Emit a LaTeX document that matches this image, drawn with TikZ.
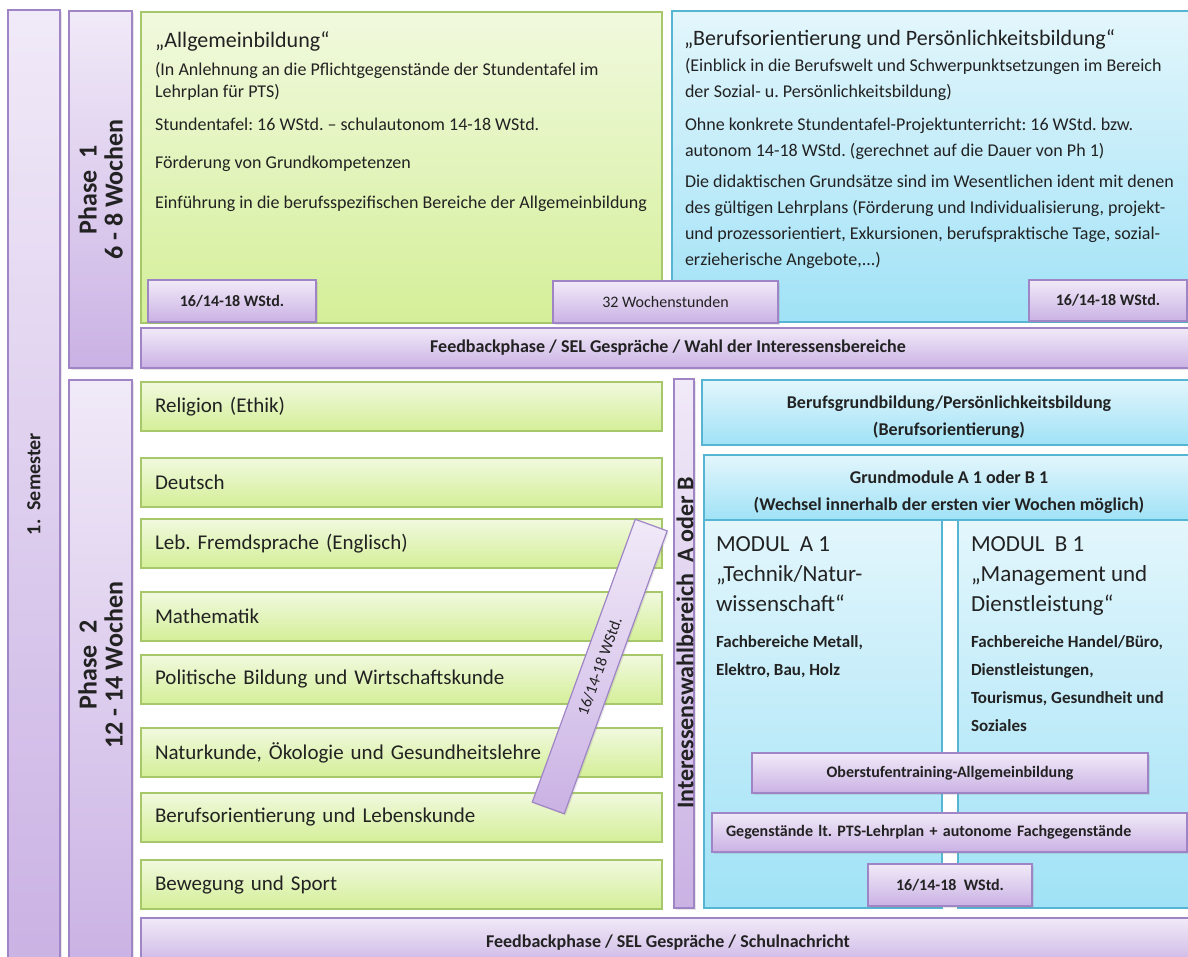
\documentclass[tikz,border=0pt]{standalone}
\usepackage{fontspec}
\setmainfont{Carlito}
\frenchspacing
\usetikzlibrary{shadows}
\definecolor{lilarand}{HTML}{A085C6}
\definecolor{lilaoben}{HTML}{F1EAF8}
\definecolor{lilaunten}{HTML}{CAB2E4}
\definecolor{gruenrand}{HTML}{A6C86A}
\definecolor{gruenoben}{HTML}{F1F9DE}
\definecolor{gruenunten}{HTML}{D4EF98}
\definecolor{blaurand}{HTML}{55B5D2}
\definecolor{blauoben}{HTML}{E3F6FC}
\definecolor{blauunten}{HTML}{A0E2F6}
\definecolor{schrift}{HTML}{222222}

\begin{document}
\begin{tikzpicture}[x=1pt, y=-1pt,
    every node/.style={inner sep=0pt, outer sep=0pt, text=schrift},
    lila/.style={draw=lilarand, line width=1.2pt, top color=lilaoben, bottom color=lilaunten,
        drop shadow={opacity=0.2, shadow xshift=1.5pt, shadow yshift=-1.5pt}},
    gruen/.style={draw=gruenrand, line width=1.2pt, top color=gruenoben, bottom color=gruenunten},
    blau/.style={draw=blaurand, line width=1.2pt, top color=blauoben, bottom color=blauunten},
    feld/.style={anchor=north west},
    titel/.style={font=\fontsize{22}{26}\selectfont, anchor=base west},
    absatz/.style={font=\fontsize{18}{22}\selectfont, align=left, anchor=north west},
    fach/.style={gruen, feld, minimum height=49pt, text width=493pt, inner xsep=14pt,
        align=left, font=\fontsize{21}{25}\selectfont},
    marke/.style={lila, feld, font=\bfseries\fontsize{16}{19}\selectfont},
    balken/.style={lila, feld, font=\bfseries\fontsize{18}{21}\selectfont},
    hoch/.style={rotate=90, align=center, font=\bfseries\fontsize{26}{26}\selectfont}]

    \useasboundingbox (0,0) rectangle (1188,956);
    \clip (0,0) rectangle (1188,956);

    % linke Leisten
    \node [lila, feld, minimum width=52pt, minimum height=960pt] (semester) at (8,10) {};
    \node [hoch, font=\bfseries\fontsize{20}{24}\selectfont] (semestertext) at (34,484) {1.\ \ Semester};
    \node [lila, feld, minimum width=63pt, minimum height=357pt] (phase1) at (69,11) {};
    \node [hoch] (phase1text) at (phase1.center) {Phase\ \ 1\\6 - 8 Wochen};
    \node [lila, feld, minimum width=63pt, minimum height=590pt] (phase2) at (69,380) {};
    \node [hoch] (phase2text) at (100.5,665) {Phase\ \ 2\\12 - 14 Wochen};

    % Phase 1
    \node [gruen, feld, minimum width=521pt, minimum height=311pt] (allg) at (141,12) {};
    \node [titel] (allgtitel) at (155,47) {„Allgemeinbildung“};
    \node [absatz] (allgtext) at (155,62)
        {(In Anlehnung an die Pflichtgegenstände der Stundentafel im\\
         Lehrplan für PTS)\\[11pt]
         Stundentafel: 16 WStd. – schulautonom 14-18 WStd.\\[16pt]
         Förderung von Grundkompetenzen\\[18pt]
         Einführung in die berufsspezifischen Bereiche der Allgemeinbildung};

    \node [blau, feld, minimum width=530pt, minimum height=311pt] (beruf) at (672,11) {};
    \node [titel] (beruftitel) at (684,45) {„Berufsorientierung und Persönlichkeitsbildung“};
    \node [absatz, font=\fontsize{18}{26}\selectfont] (beruftext) at (685,58)
        {(Einblick in die Berufswelt und Schwerpunktsetzungen im Bereich\\
         der Sozial- u. Persönlichkeitsbildung)\\[7pt]
         Ohne konkrete Stundentafel-Projektunterricht: 16 WStd. bzw.\\
         autonom 14-18 WStd. (gerechnet auf die Dauer von Ph 1)\\[5pt]
         Die didaktischen Grundsätze sind im Wesentlichen ident mit denen\\
         des gültigen Lehrplans (Förderung und Individualisierung, projekt-\\
         und prozessorientiert, Exkursionen, berufspraktische Tage, sozial-\\
         erzieherische Angebote,...)};

    \node [marke, minimum width=168pt, minimum height=42pt] (wstdlinks) at (148,280) {16/14-18 WStd.};
    \node [marke, font=\fontsize{16}{19}\selectfont, minimum width=225pt, minimum height=42pt] (wochenstd) at (553,281) {32 Wochenstunden};
    \node [marke, minimum width=158pt, minimum height=41pt] (wstdrechts) at (1029,280) {16/14-18 WStd.};

    \node [balken, minimum width=1054pt, minimum height=40pt] (feedback1) at (141,328)
        {Feedbackphase / SEL Gespräche / Wahl der Interessensbereiche};

    % Phase 2
    \node [fach] (religion) at (141,382) {Religion (Ethik)};
    \node [fach] (deutsch) at (141,458) {Deutsch};
    \node [fach] (fremdsprache) at (141,519) {Leb. Fremdsprache (Englisch)};
    \node [fach] (mathematik) at (141,592) {Mathematik};
    \node [fach] (politik) at (141,655) {Politische Bildung und Wirtschaftskunde};
    \node [fach] (naturkunde) at (141,728) {Naturkunde, Ökologie und Gesundheitslehre};
    \node [fach] (lebenskunde) at (141,793) {Berufsorientierung und Lebenskunde};
    \node [fach] (sport) at (141,860) {Bewegung und Sport};

    \node [lila, rotate=70, minimum width=301pt, minimum height=34pt,
        font=\fontsize{16}{19}\selectfont] (diagonal) at (599.75,666.5) {16/14-18 WStd.};

    \node [lila, feld, minimum width=20pt, minimum height=529pt] (interesse) at (674,379) {};
    \node [hoch, font=\bfseries\fontsize{24}{26}\selectfont] (interessetext) at (685,643)
        {Interessenswahlbereich\ \ A oder\ B};

    \node [blau, feld, minimum width=495pt, minimum height=65pt] (grundbild) at (702,380) {};
    \node [font=\bfseries\fontsize{18}{27}\selectfont, align=center] (grundbildtext) at (949,417)
        {Berufsgrundbildung/Persönlichkeitsbildung\\(Berufsorientierung)};
    \node [blau, feld, minimum width=493pt, minimum height=65pt] (grundmod) at (704,455) {};
    \node [font=\bfseries\fontsize{18}{27}\selectfont, align=center] (grundmodtext) at (949,492)
        {Grundmodule A 1 oder B 1\\(Wechsel innerhalb der ersten vier Wochen möglich)};

    \node [blau, feld, minimum width=238pt, minimum height=388pt] (modula) at (704,520) {};
    \node [blau, feld, minimum width=239pt, minimum height=388pt] (modulb) at (958,520) {};
    \node [font=\fontsize{23}{30}\selectfont, align=left, anchor=north west] (modulatitel) at (716,537)
        {MODUL\ \ A 1\\„Technik/Natur-\\wissenschaft“};
    \node [font=\bfseries\fontsize{17}{28}\selectfont, align=left, anchor=north west] (modulatext) at (716,636)
        {Fachbereiche Metall,\\Elektro, Bau, Holz};
    \node [font=\fontsize{23}{30}\selectfont, align=left, anchor=north west] (modulbtitel) at (971,537)
        {MODUL\ \ B 1\\„Management und\\Dienstleistung“};
    \node [font=\bfseries\fontsize{17}{28}\selectfont, align=left, anchor=north west] (modulbtext) at (971,636)
        {Fachbereiche Handel/Büro,\\Dienstleistungen,\\Tourismus, Gesundheit und\\Soziales};

    \node [marke, minimum width=396pt, minimum height=40pt] (oberstufe) at (752,753)
        {Oberstufentraining-Allgemeinbildung};
    \node [marke, minimum height=39pt, text width=447pt, inner xsep=14pt, align=left] (gegenstand) at (712,813)
        {Gegenstände lt. PTS-Lehrplan + autonome Fachgegenstände};
    \node [marke, minimum width=164pt, minimum height=42pt] (wstdunten) at (868,864) {16/14-18\ \ WStd.};

    \node [balken, minimum width=1054pt, minimum height=50pt] (feedback2) at (141,918)
        {Feedbackphase / SEL Gespräche / Schulnachricht};
\end{tikzpicture}
\end{document}
